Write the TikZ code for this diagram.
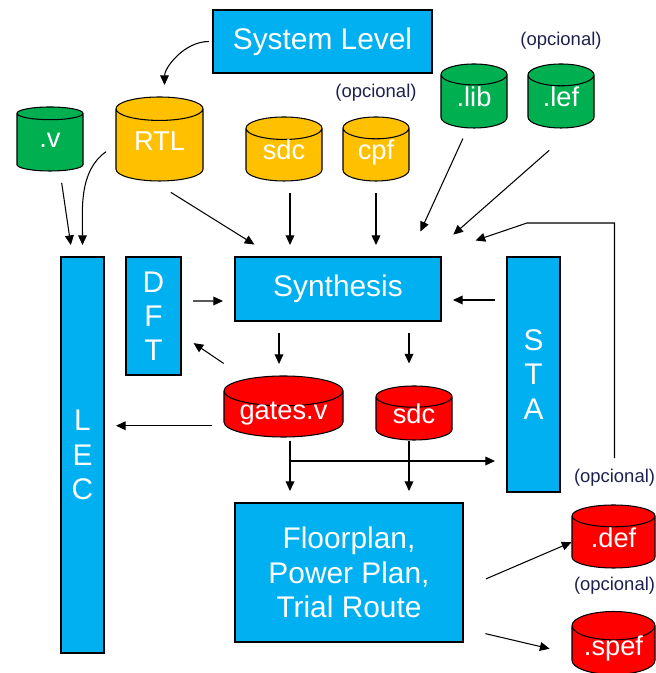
\documentclass[tikz,border=0pt]{standalone}
\usepackage{fontspec}
\setmainfont{Liberation Sans}
\usetikzlibrary{shapes.geometric, arrows.meta, positioning, calc}
\definecolor{flowblue}{HTML}{00B0F0}
\definecolor{srcyellow}{HTML}{FFC000}
\definecolor{libgreen}{HTML}{00B050}
\definecolor{outred}{HTML}{FF0000}
\definecolor{notenavy}{HTML}{1F2050}

\begin{document}
\begin{tikzpicture}[
    flowbox/.style={rectangle, draw=black, fill=flowblue, text=white, line width=0.6pt,
                    font=\fontsize{17}{19.5}\selectfont, align=center, inner sep=0pt},
    dbcyl/.style={cylinder, shape border rotate=90, aspect=0.45, draw=black, fill=#1,
                  text=white, line width=0.6pt, font=\fontsize{15.5}{18}\selectfont,
                  text height=0.72em, text depth=0.15em, inner sep=0pt, anchor=shape center},
    dbcyl/.default=srcyellow,
    optnote/.style={font=\fontsize{10.5}{12}\selectfont, text=notenavy, inner sep=0pt},
    arrow/.style={->, >={Triangle[length=5.5pt, width=5pt]}, line width=0.6pt,
                  shorten >=0.23cm, shorten <=0.23cm}
]
\useasboundingbox (0,0) rectangle (13.1,13.46);

% System level
\node[flowbox, minimum width=4.38cm, minimum height=1.26cm] at (6.45,12.63) (sys) {System Level};

% Input files
\node[dbcyl=libgreen, aspect=0.6, minimum width=1.32cm, minimum height=1.28cm] at (1.0,10.68) (vsrc) {.v};
\node[dbcyl=srcyellow, aspect=0.46, minimum width=1.74cm, minimum height=1.68cm] at (3.19,10.68) (rtl) {RTL};
\node[dbcyl=srcyellow, aspect=0.53, minimum width=1.52cm, minimum height=1.28cm] at (5.68,10.48) (sdcin) {sdc};
\node[dbcyl=srcyellow, aspect=0.6, minimum width=1.32cm, minimum height=1.28cm] at (7.52,10.48) (cpf) {cpf};
\node[optnote] at (7.52,11.61) (opccpf) {(opcional)};
\node[dbcyl=libgreen, aspect=0.6, minimum width=1.32cm, minimum height=1.28cm] at (9.48,11.54) (lib) {.lib};
\node[dbcyl=libgreen, aspect=0.6, minimum width=1.32cm, minimum height=1.28cm] at (11.22,11.54) (lef) {.lef};
\node[optnote] at (11.22,12.65) (opclef) {(opcional)};

% Main flow
\node[flowbox, minimum width=0.86cm, minimum height=7.92cm] at (1.65,4.36) (lec) {L\\E\\C};
\node[flowbox, minimum width=1.1cm, minimum height=2.36cm] at (3.07,7.14) (dft) {D\\F\\T};
\node[flowbox, minimum width=4.12cm, minimum height=1.28cm] at (6.76,7.68) (syn) {Synthesis};
\node[flowbox, minimum width=1.06cm, minimum height=4.7cm] at (10.67,5.97) (sta) {S\\T\\A};
\node[dbcyl=outred, aspect=0.34, minimum width=2.38cm, minimum height=1.22cm] at (5.67,5.33) (gates) {gates.v};
\node[dbcyl=outred, aspect=0.5, minimum width=1.52cm, minimum height=1.08cm] at (8.28,5.2) (sdcout) {sdc};
\node[flowbox, minimum width=4.56cm, minimum height=2.78cm] at (6.98,2.01) (floor)
    {Floorplan,\\Power Plan,\\Trial Route};

% Layout outputs
\node[optnote] at (12.29,3.9) (opcsta) {(opcional)};
\node[dbcyl=outred, aspect=0.48, minimum width=1.66cm, minimum height=1.26cm] at (12.27,2.73) (def) {.def};
\node[optnote] at (12.29,1.75) (opcdef) {(opcional)};
\node[dbcyl=outred, aspect=0.48, minimum width=1.66cm, minimum height=1.26cm] at (12.27,0.6) (spef) {.spef};

% Arrows into synthesis
\draw[arrow, shorten <=2pt] (sys.west) to[out=180, in=90] ([xshift=0.1cm]rtl.north);
\draw[arrow] ([xshift=0.2cm]vsrc.south) -- ([xshift=-0.2cm]lec.north);
\draw[arrow] (rtl.west) to[out=215, in=90] (lec.north);
\draw[arrow, shorten <=0.41cm, shorten >=0.45cm] ([xshift=-0.12cm]rtl.south) -- ([xshift=0.78cm]syn.north west);
\draw[arrow] ([xshift=0.12cm]sdcin.south) -- ([xshift=0.12cm]sdcin.south |- syn.north);
\draw[arrow] (cpf.south) -- (cpf.south |- syn.north);
\draw[arrow, shorten <=0.22cm, shorten >=0.55cm] ([xshift=-0.13cm]lib.south) -- ([xshift=-0.65cm]syn.north east);
\draw[arrow, shorten <=0.66cm, shorten >=0.66cm] ([xshift=0.26cm]lef.south) -- ([xshift=-0.26cm]syn.north east);

% Feedback (opcional)
\coordinate (fbturn) at (10.54,9.0);
\draw[arrow, shorten <=0.22cm, shorten >=0pt] (opcsta.north) |- (fbturn) -- ([xshift=0.68cm,yshift=0.32cm]syn.north east);

% Synthesis loop
\draw[arrow] ([yshift=0.3cm]dft.east) -- ([yshift=-0.24cm]syn.west);
\draw[arrow, shorten <=0.43cm, shorten >=0.29cm] ([xshift=-0.84cm]gates.north) -- ([yshift=-0.38cm]dft.east);
\draw[arrow] ([xshift=-0.09cm]gates.north |- syn.south) -- ([xshift=-0.09cm]gates.north);
\draw[arrow, shorten >=0.44cm] ([xshift=-0.1cm]sdcout.north |- syn.south) -- ([xshift=-0.1cm]sdcout.north);
\draw[arrow] ([yshift=-0.22cm]syn.east -| sta.west) -- ([yshift=-0.22cm]syn.east);
\draw[arrow] ([yshift=-0.23cm]gates.west) -- ([yshift=-0.23cm]gates.west -| lec.east);

% Into layout
\draw[arrow, shorten <=0.06cm] ([xshift=0.13cm]gates.south) -- ([xshift=0.13cm]gates.south |- floor.north);
\draw[arrow, shorten <=0.06cm] ([xshift=0.13cm]gates.south) |- ([yshift=-1.73cm]sta.west);
\draw[arrow, shorten <=0pt] ([xshift=-0.1cm]sdcout.south) -- ([xshift=-0.1cm]sdcout.south |- floor.north);

% Layout outputs
\draw[arrow, shorten <=0.49cm, shorten >=0pt] ([yshift=-0.32cm]floor.east) -- (def.west);
\draw[arrow, shorten <=0.45cm, shorten >=0.45cm] ([yshift=-1.12cm]floor.east) -- ([yshift=-0.07cm]spef.west);

\end{tikzpicture}
\end{document}
